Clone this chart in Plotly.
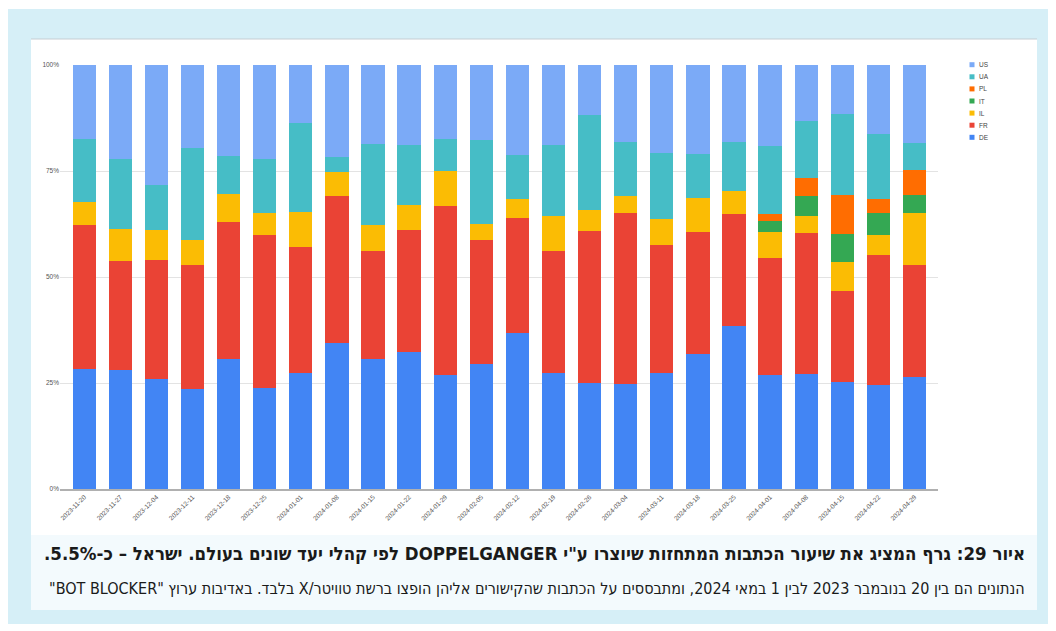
import plotly.graph_objects as go

dates = ["2023-11-20", "2023-11-27", "2023-12-04", "2023-12-11", "2023-12-18", "2023-12-25",
         "2024-01-01", "2024-01-08", "2024-01-15", "2024-01-22", "2024-01-29", "2024-02-05",
         "2024-02-12", "2024-02-19", "2024-02-26", "2024-03-04", "2024-03-11", "2024-03-18",
         "2024-03-25", "2024-04-01", "2024-04-08", "2024-04-15", "2024-04-22", "2024-04-29"]

DE = [28.2, 28.0, 25.9, 23.7, 30.7, 23.8, 27.4, 34.5, 30.7, 32.4, 27.0, 29.4,
      36.9, 27.3, 25.0, 24.8, 27.4, 31.8, 38.4, 26.8, 27.2, 25.2, 24.5, 26.3]
FR = [34.1, 25.7, 28.2, 29.2, 32.3, 36.0, 29.6, 34.7, 25.5, 28.8, 39.7, 29.4,
      26.9, 28.9, 35.9, 40.4, 30.2, 28.7, 26.5, 27.6, 33.1, 21.6, 30.7, 26.5]
IL = [5.5, 7.6, 7.1, 5.8, 6.6, 5.4, 8.3, 5.5, 6.1, 5.9, 8.4, 3.8,
      4.7, 8.3, 4.9, 3.9, 6.0, 8.1, 5.5, 6.1, 4.2, 6.7, 4.6, 12.3]
IT = [0, 0, 0, 0, 0, 0, 0, 0, 0, 0, 0, 0,
      0, 0, 0, 0, 0, 0, 0, 2.6, 4.6, 6.7, 5.3, 4.2]
PL = [0, 0, 0, 0, 0, 0, 0, 0, 0, 0, 0, 0,
      0, 0, 0, 0, 0, 0, 0, 1.8, 4.3, 9.1, 3.4, 6.0]
UA = [14.7, 16.6, 10.6, 21.8, 8.9, 12.7, 21.0, 3.5, 19.1, 14.1, 7.4, 19.7,
      10.3, 16.6, 22.3, 12.7, 15.7, 10.3, 11.5, 15.9, 13.3, 19.2, 15.2, 6.2]
US = [17.5, 22.1, 28.2, 19.5, 21.5, 22.1, 13.7, 21.8, 18.6, 18.8, 17.5, 17.7,
      21.2, 18.9, 11.9, 18.2, 20.7, 21.1, 18.1, 19.2, 13.3, 11.5, 16.3, 18.5]

series_names = ["DE", "FR", "IL", "IT", "PL", "UA", "US"]
series_vals = [DE, FR, IL, IT, PL, UA, US]
colors = {"DE": "#4285F4", "FR": "#EA4335", "IL": "#FBBC04", "IT": "#34A853",
          "PL": "#FF6D01", "UA": "#46BDC6", "US": "#7BAAF7"}

y_ticks = [0, 25, 50, 75, 100]
y_tick_text = ["0%", "25%", "50%", "75%", "100%"]

title_line = "איור 29: גרף המציג את שיעור הכתבות המתחזות שיוצרו ע\"י DOPPELGANGER לפי קהלי יעד שונים בעולם. ישראל – כ-5.5%."
note_line = "הנתונים הם בין 20 בנובמבר 2023 לבין 1 במאי 2024, ומתבססים על הכתבות שהקישורים אליהן הופצו ברשת טוויטר/X בלבד. באדיבות ערוץ \"BOT BLOCKER\""

# page body has an 8px margin: screen coordinate = figure coordinate + 8
OFF = 8
W, H = 1048, 623
ML, MT = 60 - OFF, 65 - OFF
PW, PH = 878, 424
MR, MB = W - ML - PW, H - MT - PH


def px(x):
    return (x - OFF - ML) / PW


def py(y):
    return (MT + PH - (y - OFF)) / PH


fig = go.Figure()
for name, vals in zip(series_names, series_vals):
    fig.add_trace(go.Bar(x=dates, y=vals, name=name, marker_color=colors[name],
                         marker_line_width=0, showlegend=False))

shapes = [
    dict(type="rect", xref="paper", yref="paper", x0=px(8), x1=px(1049), y0=py(9), y1=py(624),
         fillcolor="#D6EFF7", line_width=0, layer="below"),
    dict(type="rect", xref="paper", yref="paper", x0=px(31), x1=px(1037), y0=py(39), y1=py(535),
         fillcolor="#FFFFFF", line_width=0, layer="below"),
    dict(type="rect", xref="paper", yref="paper", x0=px(31), x1=px(1037), y0=py(535), y1=py(610),
         fillcolor="#F3FAFD", line_width=0, layer="below"),
    dict(type="line", xref="paper", yref="paper", x0=px(31), x1=px(1037), y0=py(39), y1=py(39),
         line=dict(color="#C5CDD3", width=1), layer="below"),
]

annotations = []
legend_order = ["US", "UA", "PL", "IT", "IL", "FR", "DE"]
for i, name in enumerate(legend_order):
    yc = 64.7 + i * 12.1
    shapes.append(dict(type="rect", xref="paper", yref="paper",
                       x0=px(969.5), x1=px(974.5), y0=py(yc - 2.5), y1=py(yc + 2.5),
                       fillcolor=colors[name], line_width=0))
    annotations.append(dict(xref="paper", yref="paper", x=px(977), y=py(yc), text=name,
                            showarrow=False, xanchor="left", yanchor="middle",
                            font=dict(family="Liberation Sans, Arial", size=6.5, color="#444444")))

annotations.append(dict(xref="paper", yref="paper", x=px(1027), y=py(553),
                        text="<b>\u202B" + title_line + "\u202C</b>", showarrow=False,
                        xanchor="right", yanchor="middle",
                        font=dict(family="DejaVu Sans Condensed, DejaVu Sans", size=18.5, color="#1A1A1A")))
annotations.append(dict(xref="paper", yref="paper", x=px(1027), y=py(588),
                        text="\u202B" + note_line + "\u202C", showarrow=False,
                        xanchor="right", yanchor="middle",
                        font=dict(family="DejaVu Sans Condensed, DejaVu Sans", size=16, color="#1A1A1A")))

fig.update_layout(
    width=W, height=H,
    margin=dict(l=ML, r=MR, t=MT, b=MB, pad=0),
    barmode="stack",
    barnorm="percent",
    bargap=0.355,
    paper_bgcolor="#FFFFFF",
    plot_bgcolor="rgba(0,0,0,0)",
    shapes=shapes,
    annotations=annotations,
    showlegend=False,
    font=dict(family="Liberation Sans, Arial", size=7, color="#555555"),
)
fig.update_xaxes(type="category", range=[-0.67, 23.65], tickangle=-45, showgrid=False,
                 showline=True, linecolor="#B0B0B0", linewidth=1.5, ticks="",
                 tickfont=dict(size=6.5, color="#555555"))
fig.update_yaxes(range=[0, 100], tickvals=y_ticks, ticktext=y_tick_text, showgrid=True,
                 gridcolor="#E3E3E3", gridwidth=1, zeroline=False, showline=False, ticks="",
                 tickfont=dict(size=6.5, color="#555555"))

fig.write_html("out.html")
